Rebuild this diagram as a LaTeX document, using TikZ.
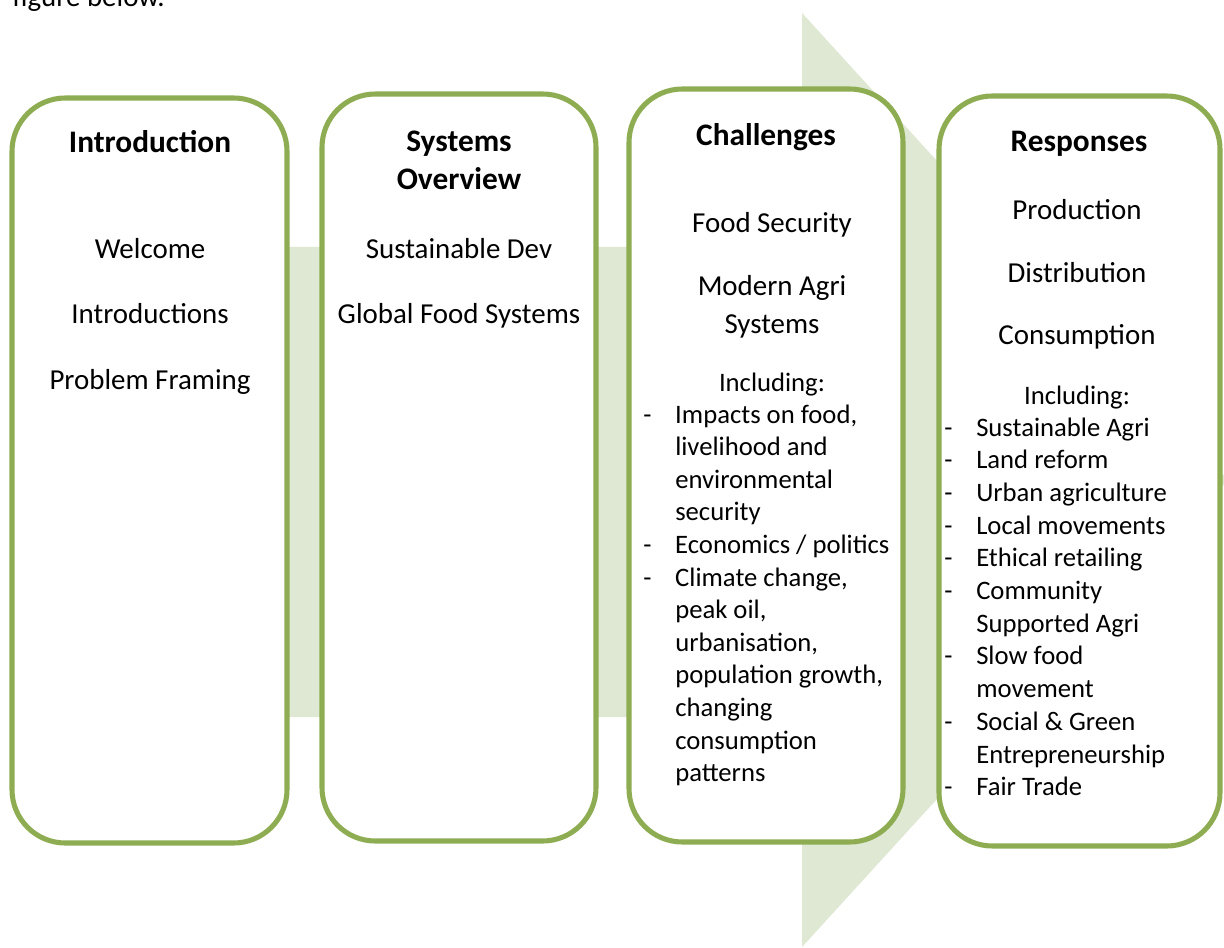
\documentclass[tikz,border=0pt]{standalone}
\usepackage{fontspec}
\setmainfont{Carlito}
\definecolor{boxgreen}{HTML}{8EAD52}
\definecolor{bandgreen}{HTML}{DEE8D2}
\begin{document}
\begin{tikzpicture}[x=0.75pt,y=-0.75pt,
  stage/.style={draw=boxgreen,line width=3.8pt,fill=white,rounded corners=40pt},
  ttl/.style={font=\fontsize{23.5}{28}\selectfont\bfseries,anchor=base,inner sep=0pt},
  itm/.style={font=\fontsize{21.7}{28}\selectfont,anchor=base,inner sep=0pt},
  lst/.style={font=\fontsize{20}{24.5}\selectfont,anchor=base west,inner sep=0pt},
  lsc/.style={font=\fontsize{20}{24.5}\selectfont,anchor=base,inner sep=0pt}]
\useasboundingbox (0,0) rectangle (1224,948);

% running text above the figure
\node[itm,anchor=base west] (caption) at (12,7) {figure below.};

% big background arrow
\fill[bandgreen] (150,247) -- (802,247) -- (802,13) -- (1228,480)
  -- (802,947) -- (802,717) -- (150,717) -- cycle;

% four stages
\draw[stage] (12,98) rectangle (287,843);
\draw[stage] (322,94) rectangle (596,841);
\draw[stage] (629,89) rectangle (903,842);
\draw[stage] (939,96) rectangle (1220,846);

% stage 1
\node[ttl] (t1) at (150,153) {Introduction};
\node[itm] (a1) at (150,259) {Welcome};
\node[itm] (a2) at (150,324) {Introductions};
\node[itm] (a3) at (150,389) {Problem Framing};

% stage 2
\node[ttl] (t2a) at (459,152) {Systems};
\node[ttl] (t2b) at (459,190) {Overview};
\node[itm] (b1) at (459,259) {Sustainable Dev};
\node[itm] (b2) at (459,324) {Global Food Systems};

% stage 3
\node[ttl] (t3) at (766,146) {Challenges};
\node[itm] (c1) at (772,233) {Food Security};
\node[itm] (c2) at (772,296) {Modern Agri};
\node[itm] (c3) at (772,334) {Systems};
\node[lsc] (c4) at (772,392) {Including:};
\node[lst] (c5)  at (643,423.0) {\makebox[24pt][l]{-}Impacts on food,};
\node[lst] (c6)  at (675,455.6) {livelihood and};
\node[lst] (c7)  at (675,488.2) {environmental};
\node[lst] (c8)  at (675,520.8) {security};
\node[lst] (c9)  at (643,553.4) {\makebox[24pt][l]{-}Economics / politics};
\node[lst] (c10) at (643,586.0) {\makebox[24pt][l]{-}Climate change,};
\node[lst] (c11) at (675,618.6) {peak oil,};
\node[lst] (c12) at (675,651.2) {urbanisation,};
\node[lst] (c13) at (675,683.8) {population growth,};
\node[lst] (c14) at (675,716.4) {changing};
\node[lst] (c15) at (675,749.0) {consumption};
\node[lst] (c16) at (675,781.6) {patterns};

% stage 4
\node[ttl] (t4) at (1079,152) {Responses};
\node[itm] (d1) at (1077,220) {Production};
\node[itm] (d2) at (1077,283) {Distribution};
\node[itm] (d3) at (1077,345) {Consumption};
\node[lsc] (d4) at (1077,404) {Including:};
\node[lst] (d5)  at (944,436.0) {\makebox[24pt][l]{-}Sustainable Agri};
\node[lst] (d6)  at (944,468.7) {\makebox[24pt][l]{-}Land reform};
\node[lst] (d7)  at (944,501.4) {\makebox[24pt][l]{-}Urban agriculture};
\node[lst] (d8)  at (944,534.1) {\makebox[24pt][l]{-}Local movements};
\node[lst] (d9)  at (944,566.8) {\makebox[24pt][l]{-}Ethical retailing};
\node[lst] (d10) at (944,599.5) {\makebox[24pt][l]{-}Community};
\node[lst] (d11) at (976,632.2) {Supported Agri};
\node[lst] (d12) at (944,664.9) {\makebox[24pt][l]{-}Slow food};
\node[lst] (d13) at (976,697.6) {movement};
\node[lst] (d14) at (944,730.3) {\makebox[24pt][l]{-}Social \& Green};
\node[lst] (d15) at (976,763.0) {Entrepreneurship};
\node[lst] (d16) at (944,795.7) {\makebox[24pt][l]{-}Fair Trade};
\end{tikzpicture}
\end{document}
